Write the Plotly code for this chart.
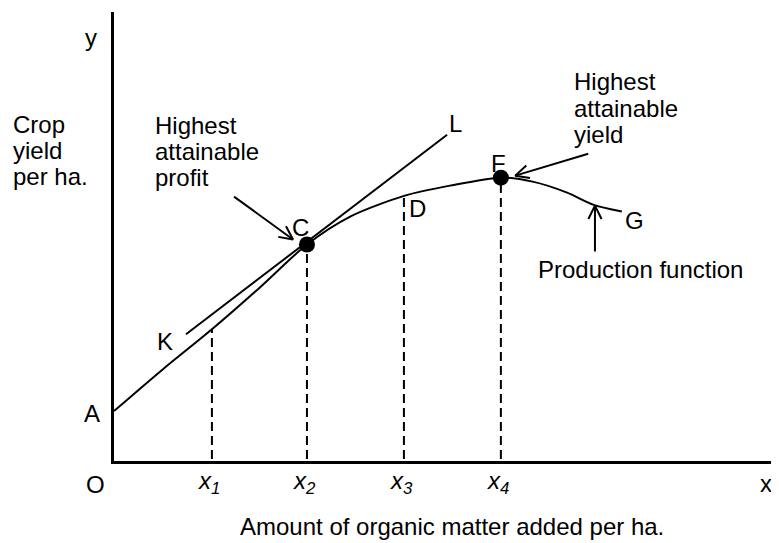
import math
import plotly.graph_objects as go

# ---------------- data (diagram units) ----------------
# production function (organic matter -> crop yield)
curve_x = [0.0, 0.51, 1.02, 1.52, 2.01, 2.46, 3.03, 3.50, 4.03, 4.36, 4.72, 4.99, 5.29]
curve_y = [1.00, 1.84, 2.64, 3.48, 4.34, 4.90, 5.32, 5.52, 5.68, 5.60, 5.38, 5.14, 5.00]

# tangent line K-L
tangent_x = [0.75, 3.47]
tangent_y = [2.54, 6.54]

# x1..x4 positions and curve heights there
mark_x = [1.02, 2.01, 3.02, 4.03]
mark_y = [2.64, 4.34, 5.32, 5.68]
mark_labels = ["<i>x<sub>1</sub></i>", "<i>x<sub>2</sub></i>",
               "<i>x<sub>3</sub></i>", "<i>x<sub>4</sub></i>"]

# highlighted points C and F
dot_x = [2.01, 4.03]
dot_y = [4.34, 5.68]

# arrows: (tail_x, tail_y, head_x, head_y)
arrows = [
    (1.25, 5.30, 1.865, 4.44),   # highest attainable profit -> C
    (4.94, 6.16, 4.18, 5.72),    # highest attainable yield -> F
    (5.01, 4.20, 5.01, 5.12),    # production function -> curve
]

# point letters (text, x, y)
point_labels = [
    ("y", -0.24, 8.48), ("L", 3.56, 6.76), ("C", 1.94, 4.68), ("D", 3.16, 5.06),
    ("F", 4.00, 5.96), ("G", 5.42, 4.82), ("K", 0.53, 2.40), ("A", -0.23, 0.96),
    ("O", -0.19, -0.48), ("x", 6.79, -0.45),
]

# multi-line text blocks (line, x_left, y)
text_lines = [
    ("Crop", -1.07, 6.75), ("yield", -1.07, 6.23), ("per ha.", -1.07, 5.71),
    ("Highest", 0.41, 6.72), ("attainable", 0.41, 6.20), ("profit", 0.41, 5.68),
    ("Highest", 4.77, 7.60), ("attainable", 4.77, 7.06), ("yield", 4.77, 6.54),
    ("Production function", 4.40, 3.84),
]
x_title = ("Amount of organic matter added per ha.", 3.52, -1.32)

# ---------------- layout geometry ----------------
# page body has an 8px margin, so the figure is 8px smaller and offset accordingly
W, H = 771, 535
ML, MR, MT, MB = 106, 0, 4, 82
X_MAX = (W - ML - MR) / 96.0
Y_MAX = 9.0
px_x = (W - ML - MR) / X_MAX
px_y = (H - MT - MB) / Y_MAX

FONT = dict(family="Arial, Liberation Sans, sans-serif", size=24, color="black")


def to_paper(x, y):
    return x / X_MAX, y / Y_MAX


fig = go.Figure()

# production function
fig.add_trace(go.Scatter(x=curve_x, y=curve_y, mode="lines",
                         line=dict(color="black", width=2, shape="spline", smoothing=0.8),
                         hoverinfo="skip", showlegend=False))
# tangent
fig.add_trace(go.Scatter(x=tangent_x, y=tangent_y, mode="lines",
                         line=dict(color="black", width=2),
                         hoverinfo="skip", showlegend=False))
# dashed verticals
for mx, my in zip(mark_x, mark_y):
    fig.add_trace(go.Scatter(x=[mx, mx], y=[0.04, my], mode="lines",
                             line=dict(color="black", width=2, dash="9px,5px"),
                             hoverinfo="skip", showlegend=False))
# dots
fig.add_trace(go.Scatter(x=dot_x, y=dot_y, mode="markers",
                         marker=dict(color="black", size=16),
                         hoverinfo="skip", showlegend=False))

# arrows with open V heads
ARM = 15.0
ANG = math.radians(26)
for tx, ty, hx, hy in arrows:
    dxp = (hx - tx) * px_x
    dyp = (hy - ty) * px_y
    L = math.hypot(dxp, dyp)
    ux, uy = -dxp / L, -dyp / L
    pts = []
    for s in (1, -1):
        c, sn = math.cos(s * ANG), math.sin(s * ANG)
        vx = ux * c - uy * sn
        vy = ux * sn + uy * c
        pts.append((hx + vx * ARM / px_x, hy + vy * ARM / px_y))
    xs = [tx, hx, None, pts[0][0], hx, pts[1][0]]
    ys = [ty, hy, None, pts[0][1], hy, pts[1][1]]
    fig.add_trace(go.Scatter(x=xs, y=ys, mode="lines",
                             line=dict(color="black", width=2),
                             hoverinfo="skip", showlegend=False))

annotations = []


def add_text(t, x, y, xanchor):
    pxp, pyp = to_paper(x, y)
    annotations.append(dict(text=t, x=pxp, y=pyp, xref="paper", yref="paper",
                            showarrow=False, xanchor=xanchor, yanchor="middle",
                            font=FONT))


for t, x, y in point_labels:
    add_text(t, x, y, "center")
for t, x in zip(mark_labels, mark_x):
    add_text(t, x - 0.03, -0.44, "center")
for t, x, y in text_lines:
    add_text(t, x, y, "left")
add_text(*x_title, "center")

fig.update_layout(
    width=W, height=H,
    margin=dict(l=ML, r=MR, t=MT, b=MB, pad=0),
    paper_bgcolor="white", plot_bgcolor="white",
    xaxis=dict(range=[0, X_MAX], showline=True, linecolor="black", linewidth=2.5,
               showgrid=False, zeroline=False, showticklabels=False, ticks="", fixedrange=True),
    yaxis=dict(range=[0, Y_MAX], showline=True, linecolor="black", linewidth=2.5,
               showgrid=False, zeroline=False, showticklabels=False, ticks="", fixedrange=True),
    annotations=annotations,
    showlegend=False,
)

fig.write_html("out.html")
